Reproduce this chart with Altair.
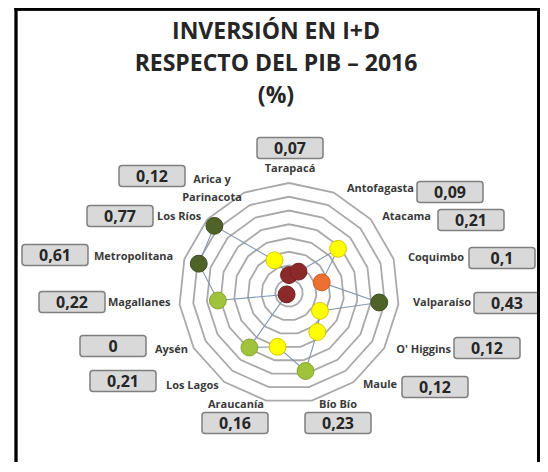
import math
import altair as alt
import pandas as pd

# ---------------- data ----------------
regions = ["Tarapacá", "Antofagasta", "Atacama", "Coquimbo", "Valparaíso",
           "O' Higgins", "Maule", "Bío Bío", "Araucanía", "Los Lagos",
           "Aysén", "Magallanes", "Metropolitana", "Los Ríos",
           "Arica y\nParinacota"]
# value written in each label box (% of GDP)
investment = [0.07, 0.09, 0.21, 0.10, 0.43, 0.12, 0.12, 0.23, 0.16, 0.21,
              0.0, 0.22, 0.61, 0.77, 0.12]
# radial position of each dot on the radar
radar_value = [0.13, 0.17, 0.48, 0.25, 0.66, 0.26, 0.35, 0.58, 0.40, 0.49,
               0.02, 0.52, 0.69, 0.73, 0.26]
dot_class = ["low", "low", "mid", "orange", "high", "mid", "mid", "good",
             "mid", "good", "low", "good", "high", "high", "mid"]
ring_levels = [0.1, 0.2, 0.3, 0.4, 0.5, 0.6, 0.7, 0.8]
title_lines = ["INVERSIÓN EN I+D", "RESPECTO DEL PIB – 2016", "(%)"]

# ---------------- layout (screen pixels) ----------------
W, H = 532, 454
CX, CY = 289, 293          # radar centre
K = 137.5                  # pixels per unit of value
name_x = [290, 414, 431, 464, 471, 451, 397, 338, 236, 166, 155, 108, 94, 157, 212]
name_y = [169, 189, 217, 258, 303, 350, 385, 405, 405, 386, 350, 303, 257, 217, 180]
name_align = ["center", "right", "right", "right", "right", "right", "right",
              "center", "center", "left", "left", "left", "left", "left", "center"]
box_x = [290, 450, 471, 502, 507, 487, 435, 338, 235, 123, 113, 72, 55, 120, 152]
box_y = [148, 192, 220, 258, 303, 348, 387, 423, 423, 381, 346, 302, 255, 216, 176]
BOX_W, BOX_H = 66, 21
title_x = 276
title_y = [39, 71, 103]

def vx(px):
    return (px - CX) / K

def vy(py):
    return (CY - py) / K

n = len(regions)
step = 2 * math.pi / n

xs = alt.Scale(domain=[(0 - (CX - 8)) / K, (W - (CX - 8)) / K], nice=False, zero=False)
ys = alt.Scale(domain=[((CY - 8) - H) / K, (CY - 8) / K], nice=False, zero=False)
X = alt.X("x:Q", scale=xs, axis=None)
Y = alt.Y("y:Q", scale=ys, axis=None)

# rings
ring_rows = []
for k, r in enumerate(ring_levels):
    for j in range(n + 1):
        a = (j % n) * step
        ring_rows.append({"ring": k, "j": j, "x": r * math.sin(a), "y": r * math.cos(a)})
rings = alt.Chart(pd.DataFrame(ring_rows)).mark_line(
    color="#a9a9a9", strokeWidth=1.8
).encode(x=X, y=Y, detail="ring:N", order="j:Q")

# data polygon + dots
pts = []
for i in range(n):
    a = i * step
    pts.append({"i": i, "region": regions[i], "cls": dot_class[i],
                "x": radar_value[i] * math.sin(a), "y": radar_value[i] * math.cos(a)})
pts_df = pd.DataFrame(pts)
poly_df = pd.concat([pts_df, pts_df.iloc[[0]].assign(i=n)], ignore_index=True)
poly = alt.Chart(poly_df).mark_line(color="#8497b0", strokeWidth=1.1).encode(
    x=X, y=Y, order="i:Q")

cls_domain = ["high", "good", "mid", "orange", "low"]
cls_fill = ["#4f6228", "#a0c33c", "#ffff00", "#ed7030", "#8c2a2a"]
cls_stroke = ["#3d4c1f", "#86a52e", "#d6c800", "#c85a22", "#6e2020"]
dots = alt.Chart(pts_df).mark_circle(size=285, opacity=1, strokeWidth=1).encode(
    x=X, y=Y,
    fill=alt.Fill("cls:N", scale=alt.Scale(domain=cls_domain, range=cls_fill), legend=None),
    stroke=alt.Stroke("cls:N", scale=alt.Scale(domain=cls_domain, range=cls_stroke), legend=None),
)

# labels
lab = pd.DataFrame({
    "region": regions,
    "align": name_align,
    "x": [vx(v) for v in name_x],
    "y": [vy(v) for v in name_y],
    "bx": [vx(v - BOX_W / 2) for v in box_x],
    "bx2": [vx(v + BOX_W / 2) for v in box_x],
    "by": [vy(v - BOX_H / 2) for v in box_y],
    "by2": [vy(v + BOX_H / 2) for v in box_y],
    "tx": [vx(v) for v in box_x],
    "ty": [vy(v) for v in box_y],
    "val": [f"{v:g}".replace(".", ",") for v in investment],
})

name_layers = []
for al in ["left", "center", "right"]:
    name_layers.append(
        alt.Chart(lab).transform_filter(alt.datum.align == al).mark_text(
            align=al, baseline="middle", font="Open Sans", fontSize=11,
            fontWeight="bold", color="#3a3a3a", lineBreak="\n", lineHeight=18
        ).encode(x=X, y=Y, text="region:N")
    )

boxes = alt.Chart(lab).mark_rect(
    fill="#d9d9d9", stroke="#7f7f7f", strokeWidth=1.5, cornerRadius=3
).encode(
    x=alt.X("bx:Q", scale=xs, axis=None), x2="bx2:Q",
    y=alt.Y("by:Q", scale=ys, axis=None), y2="by2:Q",
)
box_text = alt.Chart(lab).mark_text(
    align="center", baseline="middle", font="Open Sans", fontSize=16,
    fontWeight="bold", color="#262626", dy=1
).encode(
    x=alt.X("tx:Q", scale=xs, axis=None),
    y=alt.Y("ty:Q", scale=ys, axis=None),
    text="val:N",
)

title_df = pd.DataFrame({
    "line": title_lines,
    "x": [vx(title_x)] * 3,
    "y": [vy(v) for v in title_y],
})
title = alt.Chart(title_df).mark_text(
    align="center", baseline="alphabetic", font="Open Sans", fontSize=23,
    fontWeight="bold", color="#262626"
).encode(x=X, y=Y, text="line:N")

# frame
frame_left = alt.Chart(title_df).mark_rule(color="black", strokeWidth=2.6).encode(
    x=alt.value(8), y=alt.value(0), y2=alt.value(H))
frame_right = alt.Chart(title_df).mark_rule(color="black", strokeWidth=2.6).encode(
    x=alt.value(530.5), y=alt.value(0), y2=alt.value(H))
frame_top = alt.Chart(title_df).mark_rule(color="black", strokeWidth=2.6).encode(
    x=alt.value(6.7), x2=alt.value(531.8), y=alt.value(1.3))

chart = alt.layer(
    rings, poly, dots, *name_layers, boxes, box_text, title,
    frame_left, frame_right, frame_top
).properties(
    width=W, height=H, autosize=alt.AutoSizeParams(type="none"), padding=0,
    background="white"
).configure_view(stroke=None)

chart.save("out.html", embed_options={"renderer": "svg", "actions": False})
